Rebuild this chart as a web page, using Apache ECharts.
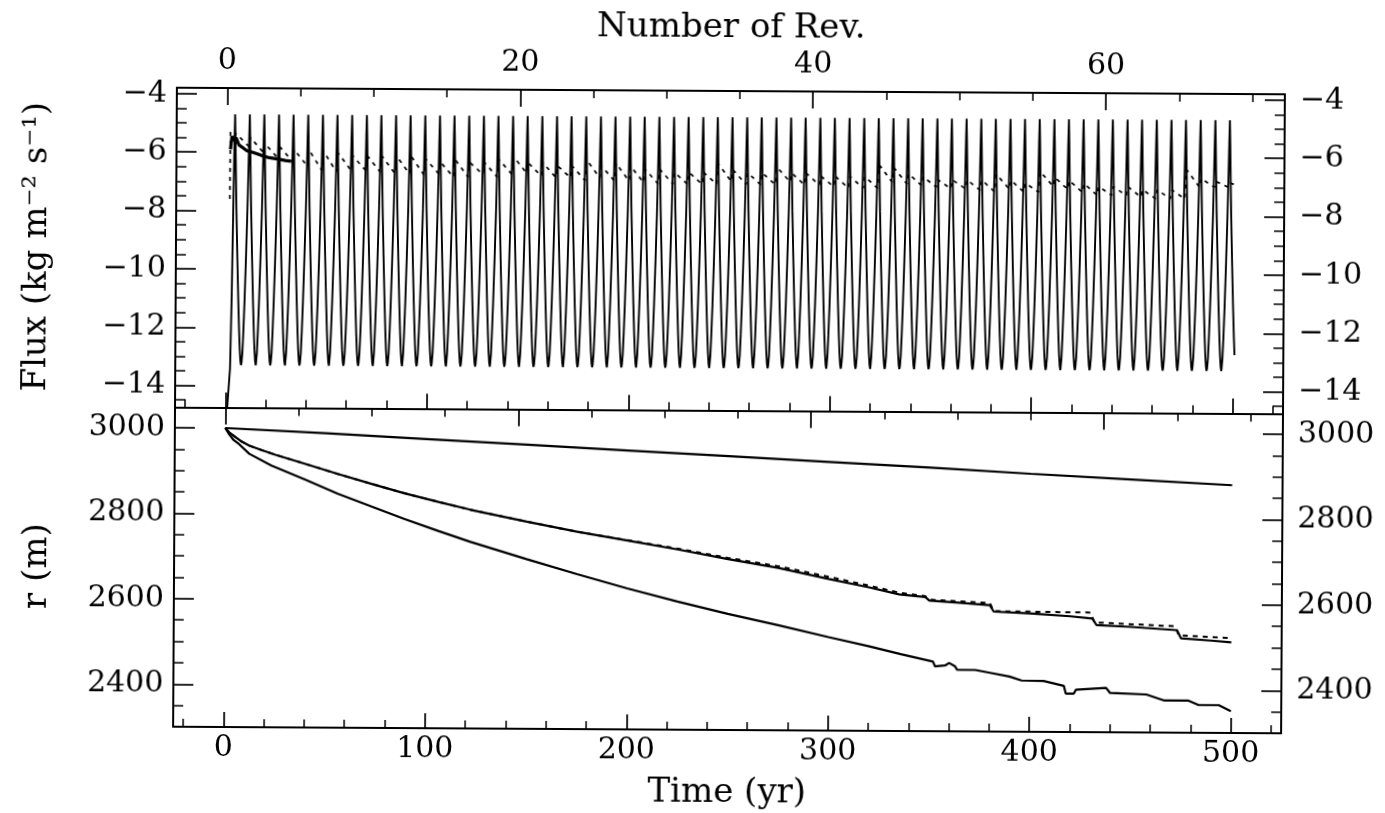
<!DOCTYPE html>
<html><head><meta charset="utf-8">
<script src="https://cdn.jsdelivr.net/npm/echarts@6/dist/echarts.min.js"></script>
<style>
html,body{margin:0;padding:0;background:#fff;}
#chart{width:1385px;height:813px;transform:rotate(0.34deg);transform-origin:728px 410px;}
</style></head><body><div id="chart"></div>
<script>
// ---------------- data ----------------
const TIME_RANGE = [-25, 525];          // yr
const REV_PERIOD = 7.27;                // yr per revolution (top axis)
const FLUX_RANGE = [-14.75, -3.8];
const R_RANGE = [2300, 3048];

// times of the flux maxima (yr)
const PEAK_TIMES = [4.0,11.3,18.5,25.8,33.0,40.3,47.6,54.8,62.1,69.4,76.6,83.9,91.1,98.4,105.7,112.9,120.2,127.5,134.7,142.0,
149.2,156.5,163.8,171.0,178.3,185.6,192.8,200.1,207.3,214.6,221.9,229.1,236.4,243.6,250.9,258.2,265.4,272.7,280.0,287.2,
294.5,301.7,309.0,316.3,323.5,330.8,338.1,345.3,352.6,359.8,367.1,374.4,381.6,388.9,396.1,403.4,410.7,417.9,425.2,432.5,
439.7,447.0,454.2,461.5,468.8,476.0,483.3,490.6,497.8];
// shape of one flux cycle around a maximum: [offset yr, log flux]
const CYCLE_SHAPE = [[-3.4,-13.2],[-3.0,-12.85],[-2.6,-12.15],[-2.1,-11.1],[-1.5,-9.6],[-0.9,-7.9],[-0.5,-6.5],[-0.25,-5.5],[0,-4.7],
[0.25,-5.5],[0.5,-6.5],[0.9,-7.9],[1.5,-9.6],[2.1,-11.1],[2.6,-12.15],[2.95,-12.75],[3.3,-13.15],[3.63,-13.3]];
const FLUX_START = [[0.0,-18],[0.9,-14.75],[2.2,-13.4],[2.8,-11.0],[3.3,-8.2],[3.65,-6.2],[3.85,-5.3]];
const FLUX_END_OFFSET = 2.95;

// dotted flux curve: value just after each maximum and just before the next
const DOTTED_START = [[1.6,-7.6],[1.7,-5.3],[3.6,-5.6]];
const DOTTED_HI = [-5.35,-5.5,-5.7,-5.8,-5.9,-5.9,-5.95,-6.0,-6.1,-6.1,-6.1,-6.1,-6.1,-6.2,-6.3,-6.2,-6.3,-6.3,-6.2,-6.1,
-6.3,-6.3,-6.4,-6.4,-6.2,-6.4,-6.3,-6.4,-6.5,-6.5,-6.6,-6.6,-6.6,-6.3,-6.5,-6.6,-6.6,-6.4,-6.6,-6.6,
-6.7,-6.7,-6.7,-6.7,-6.3,-6.4,-6.6,-6.7,-6.8,-6.8,-6.8,-6.8,-6.6,-6.8,-6.9,-6.5,-6.7,-6.8,-6.9,-7.0,
-7.0,-7.0,-7.1,-7.1,-7.1,-6.4,-6.7,-6.8,-6.85];
const DOTTED_LO = [-5.8,-6.0,-6.2,-6.3,-6.45,-6.6,-6.65,-6.6,-6.6,-6.65,-6.7,-6.7,-6.75,-6.7,-6.8,-6.8,-6.7,-6.8,-6.7,-6.65,
-6.75,-6.8,-6.8,-6.9,-6.8,-6.9,-6.9,-6.95,-7.0,-7.0,-7.0,-7.0,-7.0,-6.9,-7.0,-7.0,-7.0,-6.9,-7.0,-7.0,
-7.05,-7.1,-7.1,-7.1,-6.9,-6.95,-7.0,-7.05,-7.1,-7.1,-7.15,-7.2,-7.1,-7.2,-7.2,-7.0,-7.1,-7.2,-7.3,-7.3,
-7.3,-7.35,-7.4,-7.4,-7.4,-7.0,-7.0,-7.0,-6.9];
const DOTTED_END_T = 500;

// thick solid flux segment at the start
const FLUX_BOLD = [[1.8,-5.9],[2.5,-5.45],[3.4,-5.6],[4.5,-5.5],[6,-5.75],[8,-5.85],[10,-5.95],[13,-6.0],[17,-6.1],
[21,-6.18],[25,-6.22],[29,-6.27],[32,-6.3]];

// radius curves [yr, m]
const R_TOP = [[0,3000],[50,2989],[100,2977],[150,2965],[200,2953],[250,2941],[300,2929],[350,2917],[400,2904],[450,2892],[500,2880]];
const R_MID = [[0,3000],[2,2990],[5,2979],[8,2969],[12,2959],[18,2949],[25,2938],[40,2917],[56,2894],[73,2871],[89,2850],
[106,2830],[122,2812],[150,2785],[175,2762],[200,2742],[225,2722],[250,2700],[275,2680],[300,2655],[320,2636],[335,2620],
[348,2614],[350,2606],[365,2601],[380,2596],[382,2581],[400,2577],[420,2571],[431,2566],[433,2551],[450,2547],[473,2540],
[475,2521],[490,2516],[500,2512]];
const R_MID_DASHED = [[0,3000],[2,2990],[5,2979],[8,2969],[12,2959],[18,2949],[25,2938],[40,2917],[56,2894],[73,2871],[89,2850],
[106,2830],[122,2812],[150,2785],[175,2762],[200,2743],[225,2724],[250,2703],[275,2684],[300,2660],[320,2640],[335,2624],
[348,2616],[350,2608],[380,2601],[382,2582],[430,2580],[432,2557],[472,2549],[474,2528],[500,2522]];
const R_BOTTOM = [[0,3000],[2,2985],[4,2973],[7,2962],[12,2940],[23,2913],[40,2880],[56,2848],[73,2818],[89,2790],[106,2762],
[122,2737],[150,2697],[175,2663],[200,2630],[225,2600],[250,2572],[275,2546],[300,2519],[320,2498],[336,2480],[352,2463],
[353,2452],[358,2454],[360,2460],[363,2452],[364,2444],[373,2444],[381,2437],[390,2429],[396,2420],[407,2419],[417,2408],
[418,2390],[422,2390],[423,2399],[438,2404],[440,2392],[458,2389],[467,2375],[479,2375],[484,2365],[494,2365],[500,2351]];

// ---------------- build series data ----------------
const flux = FLUX_START.slice();
PEAK_TIMES.forEach((tp, k) => {
  const last = k === PEAK_TIMES.length - 1;
  CYCLE_SHAPE.forEach(([dt, v]) => {
    if (k === 0 && dt < 0) return;
    if (last && dt > FLUX_END_OFFSET) return;
    flux.push([+(tp + dt).toFixed(3), v]);
  });
});
const dotted = DOTTED_START.slice();
PEAK_TIMES.forEach((tp, k) => {
  const next = PEAK_TIMES[k + 1];
  dotted.push([tp + 0.4, DOTTED_HI[k]]);
  dotted.push([next !== undefined ? next - 0.4 : DOTTED_END_T, DOTTED_LO[k]]);
});

// ---------------- chart ----------------
const FONT = "'DejaVu Serif', serif";
const BLACK = '#000';
const minus = v => String(v).replace('-', '\u2212');

function axis(extra, tickLen, minorLen) {
  const base = {
    type: 'value',
    axisLine: {show: true, onZero: false, lineStyle: {color: BLACK, width: 2}},
    axisTick: {show: true, inside: true, length: tickLen, lineStyle: {color: BLACK, width: 1.7}},
    minorTick: {show: true, length: minorLen, lineStyle: {color: BLACK, width: 1.5}},
    splitLine: {show: false}, minorSplitLine: {show: false},
    axisLabel: {show: false, color: BLACK, fontFamily: FONT, fontSize: 30, showMinLabel: false, showMaxLabel: false, formatter: minus},
    nameTextStyle: {color: BLACK, fontFamily: FONT, fontSize: 34}
  };
  const out = Object.assign({}, base, extra);
  if (extra.axisLabel) out.axisLabel = Object.assign({}, base.axisLabel, extra.axisLabel);
  if (extra.minorTick) out.minorTick = Object.assign({}, base.minorTick, extra.minorTick);
  return out;
}
const revRange = [TIME_RANGE[0] / REV_PERIOD, TIME_RANGE[1] / REV_PERIOD];
const timeAx = {min: TIME_RANGE[0], max: TIME_RANGE[1], splitNumber: 5, minInterval: 100, maxInterval: 100, minorTick: {splitNumber: 5}};
const revAx = {min: revRange[0], max: revRange[1], splitNumber: 4, minInterval: 20, maxInterval: 20, minorTick: {splitNumber: 4}};
const fluxAx = {min: FLUX_RANGE[0], max: FLUX_RANGE[1], splitNumber: 5, minInterval: 2, maxInterval: 2, minorTick: {splitNumber: 4}};
const rAx = {min: R_RANGE[0], max: R_RANGE[1], splitNumber: 4, minInterval: 200, maxInterval: 200, minorTick: {splitNumber: 4}};

const option = {
  animation: false,
  backgroundColor: '#fff',
  grid: [
    {left: 175, top: 91, width: 1108, height: 319.5},
    {left: 175, top: 410.5, width: 1108, height: 319.5}
  ],
  xAxis: [
    axis(Object.assign({gridIndex: 0, position: 'bottom'}, timeAx), 15, 8),
    axis(Object.assign({gridIndex: 0, position: 'top', name: 'Number of Rev.', nameLocation: 'middle', nameGap: 46,
      axisLabel: {show: true, margin: 12}}, revAx), 17, 8),
    axis(Object.assign({gridIndex: 1, position: 'bottom', name: 'Time (yr)', nameLocation: 'middle', nameGap: 46,
      axisLabel: {show: true, margin: 6}}, timeAx), 15, 8),
    axis(Object.assign({gridIndex: 1, position: 'top'}, revAx), 17, 8)
  ],
  yAxis: [
    axis(Object.assign({gridIndex: 0, position: 'left', name: 'Flux (kg m\u207B\u00B2 s\u207B\u00B9)', nameLocation: 'middle', nameGap: 122,
      axisLabel: {show: true, margin: 10}}, fluxAx), 20, 10),
    axis(Object.assign({gridIndex: 0, position: 'right', axisLabel: {show: true, margin: 15}}, fluxAx), 20, 10),
    axis(Object.assign({gridIndex: 1, position: 'left', name: 'r (m)', nameLocation: 'middle', nameGap: 120,
      axisLabel: {show: true, margin: 10}}, rAx), 20, 10),
    axis(Object.assign({gridIndex: 1, position: 'right', axisLabel: {show: true, margin: 15}}, rAx), 20, 10)
  ],
  series: [
    {name: 'flux', type: 'line', xAxisIndex: 0, yAxisIndex: 0, data: flux, symbol: 'none', clip: true,
      lineStyle: {color: BLACK, width: 1.9}},
    {name: 'flux dotted', type: 'line', xAxisIndex: 0, yAxisIndex: 0, data: dotted, symbol: 'none', clip: true,
      lineStyle: {color: BLACK, width: 1.7, type: [4, 5]}},
    {name: 'flux early', type: 'line', xAxisIndex: 0, yAxisIndex: 0, data: FLUX_BOLD, symbol: 'none', clip: true,
      lineStyle: {color: BLACK, width: 3.2}},
    {name: 'r top', type: 'line', xAxisIndex: 2, yAxisIndex: 2, data: R_TOP, symbol: 'none', clip: true,
      lineStyle: {color: BLACK, width: 2.2}},
    {name: 'r mid dashed', type: 'line', xAxisIndex: 2, yAxisIndex: 2, data: R_MID_DASHED, symbol: 'none', clip: true,
      lineStyle: {color: BLACK, width: 2, type: [5, 5]}},
    {name: 'r mid', type: 'line', xAxisIndex: 2, yAxisIndex: 2, data: R_MID, symbol: 'none', clip: true,
      lineStyle: {color: BLACK, width: 2.2}},
    {name: 'r bottom', type: 'line', xAxisIndex: 2, yAxisIndex: 2, data: R_BOTTOM, symbol: 'none', clip: true,
      lineStyle: {color: BLACK, width: 2.2}}
  ]
};
const chart = echarts.init(document.getElementById('chart'), null, {renderer: 'canvas'});
chart.setOption(option);
</script></body></html>
